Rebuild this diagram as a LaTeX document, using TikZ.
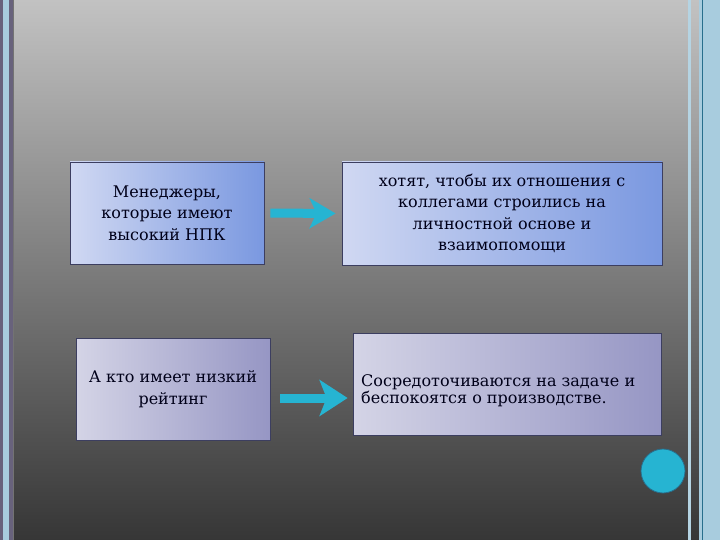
\documentclass[tikz,border=0pt]{standalone}
\usepackage{fontspec}
\setmainfont{DejaVu Serif}
\usetikzlibrary{arrows.meta}
\definecolor{bgtop}{RGB}{194,194,194}
\definecolor{bgbot}{RGB}{54,54,54}
\definecolor{bluel}{RGB}{208,216,242}
\definecolor{bluer}{RGB}{122,152,224}
\definecolor{lavl}{RGB}{212,212,230}
\definecolor{lavr}{RGB}{150,150,196}
\definecolor{edgec}{RGB}{60,62,96}
\definecolor{cyanarr}{RGB}{38,180,210}
\definecolor{stripblue}{RGB}{168,204,222}
\definecolor{strippurple}{RGB}{104,98,124}
\definecolor{tealline}{RGB}{40,110,140}
\tikzset{
  boxa/.style={draw=edgec, line width=0.8pt, left color=bluel, right color=bluer, align=center, inner sep=0pt},
  boxb/.style={draw=edgec, line width=0.8pt, left color=lavl, right color=lavr, align=center, inner sep=0pt},
  arr/.style={draw=cyanarr, line width=9pt, -{Stealth[length=26pt, width=30pt, inset=7pt]}},
  txt/.style={font=\fontsize{16}{21.5}\selectfont, text=black!90!blue},
}
\begin{document}
\begin{tikzpicture}[x=1pt, y=-1pt]
\useasboundingbox (0,0) rectangle (720,540);
\shade[top color=bgtop, bottom color=bgbot] (0,0) rectangle (720,540);
% left strip
\fill[strippurple] (0,0) rectangle (14,540);
\fill[stripblue] (3,0) rectangle (9,540);
\draw[black!55, line width=0.6pt] (13.5,0) -- (13.5,540);
% right strip
\fill[stripblue!85!white] (688,0) rectangle (691,540);
\fill[stripblue] (699,0) rectangle (720,540);
\draw[tealline, line width=1pt] (702,0) -- (702,540);
% boxes
\node[boxa, txt, minimum width=194pt, minimum height=102pt] (b1) at (167,213) {Менеджеры,\\которые имеют\\высокий НПК};
\node[boxa, txt, minimum width=320pt, minimum height=103pt] (b2) at (502,213.5) {хотят, чтобы их отношения с\\коллегами строились на\\личностной основе и\\взаимопомощи};
\node[boxb, txt, minimum width=194pt, minimum height=102pt] (b3) at (173,389) {А кто имеет низкий\\рейтинг};
\node[boxb, minimum width=308pt, minimum height=102pt] (b4) at (507,384) {};
\node[txt, anchor=west, align=left, font=\fontsize{16}{17}\selectfont, inner sep=0pt] (t4) at (361,391) {Сосредоточиваются на задаче и\\беспокоятся о производстве.};
% arrows
\draw[arr, shorten <=6pt, shorten >=6pt] (b1.east) -- (b2.west);
\draw[arr, -{Stealth[length=28pt, width=36pt, inset=7pt]}, shorten <=10pt, shorten >=5pt] (b3.east |- 0,398) -- (b4.west |- 0,398);
% circle
\node[circle, fill=cyanarr, draw=tealline, line width=0.8pt, minimum size=44pt, inner sep=0pt] (c1) at (663,471) {};
\end{tikzpicture}
\end{document}
